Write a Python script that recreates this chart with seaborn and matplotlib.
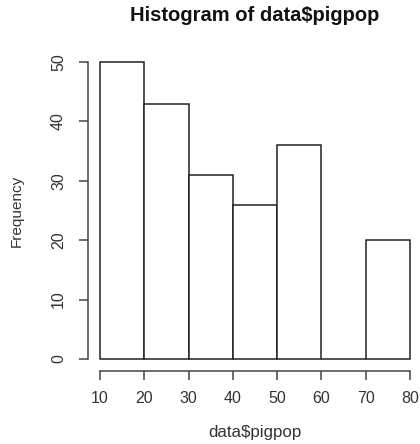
import numpy as np
import pandas as pd
import matplotlib
matplotlib.use("Agg")
import matplotlib.pyplot as plt
import seaborn as sns

# Data
bin_edges = [10, 20, 30, 40, 50, 60, 70, 80]
counts = [50, 43, 31, 26, 36, 0, 20]
x_ticks = [10, 20, 30, 40, 50, 60, 70, 80]
y_ticks = [0, 10, 20, 30, 40, 50]

sns.set_style("white")
plt.rcParams['font.family'] = ['Liberation Sans', 'DejaVu Sans']

centers = [(a + b) / 2 for a, b in zip(bin_edges[:-1], bin_edges[1:])]
df = pd.DataFrame({"pigpop": centers, "n": counts})

fig = plt.figure(figsize=(4.2, 4.44), dpi=100)
ax = fig.add_axes([0.2086, 0.1647, 0.797, 0.7225])

sns.histplot(data=df, x="pigpop", weights="n", bins=bin_edges, ax=ax,
             color="white", edgecolor="#222222", linewidth=1.1, alpha=1)

ax.set_xlim(7.2, 82.8)
ax.set_ylim(-2, 52)
ax.set_xticks(x_ticks)
ax.set_yticks(y_ticks)
ax.set_yticklabels([str(v) for v in y_ticks], rotation=90, va="center")

for s in ["top", "right"]:
    ax.spines[s].set_visible(False)
ax.spines["left"].set_bounds(0, 50)
ax.spines["bottom"].set_bounds(10, 80)
for s in ["left", "bottom"]:
    ax.spines[s].set_color("#444444")
    ax.spines[s].set_linewidth(1.1)

ax.tick_params(axis="both", which="major", direction="out", length=6.5,
               width=1.1, color="#444444", labelsize=11.5, labelcolor="#333333",
               left=True, bottom=True)
ax.tick_params(axis="x", pad=8)
ax.tick_params(axis="y", pad=9)

ax.set_xlabel("data$pigpop", fontsize=12.2, color="#333333", va="center")
ax.xaxis.set_label_coords(0.5, -0.1936)
ax.set_ylabel("Frequency", fontsize=11, color="#333333", va="center")
ax.yaxis.set_label_coords(-0.2109, 0.5)
ax.set_title("Histogram of data$pigpop", fontsize=14.5, fontweight="bold",
             color="#111111", y=1.1063, va="center", pad=0)

fig.savefig("out.png", dpi=100, facecolor="white")
